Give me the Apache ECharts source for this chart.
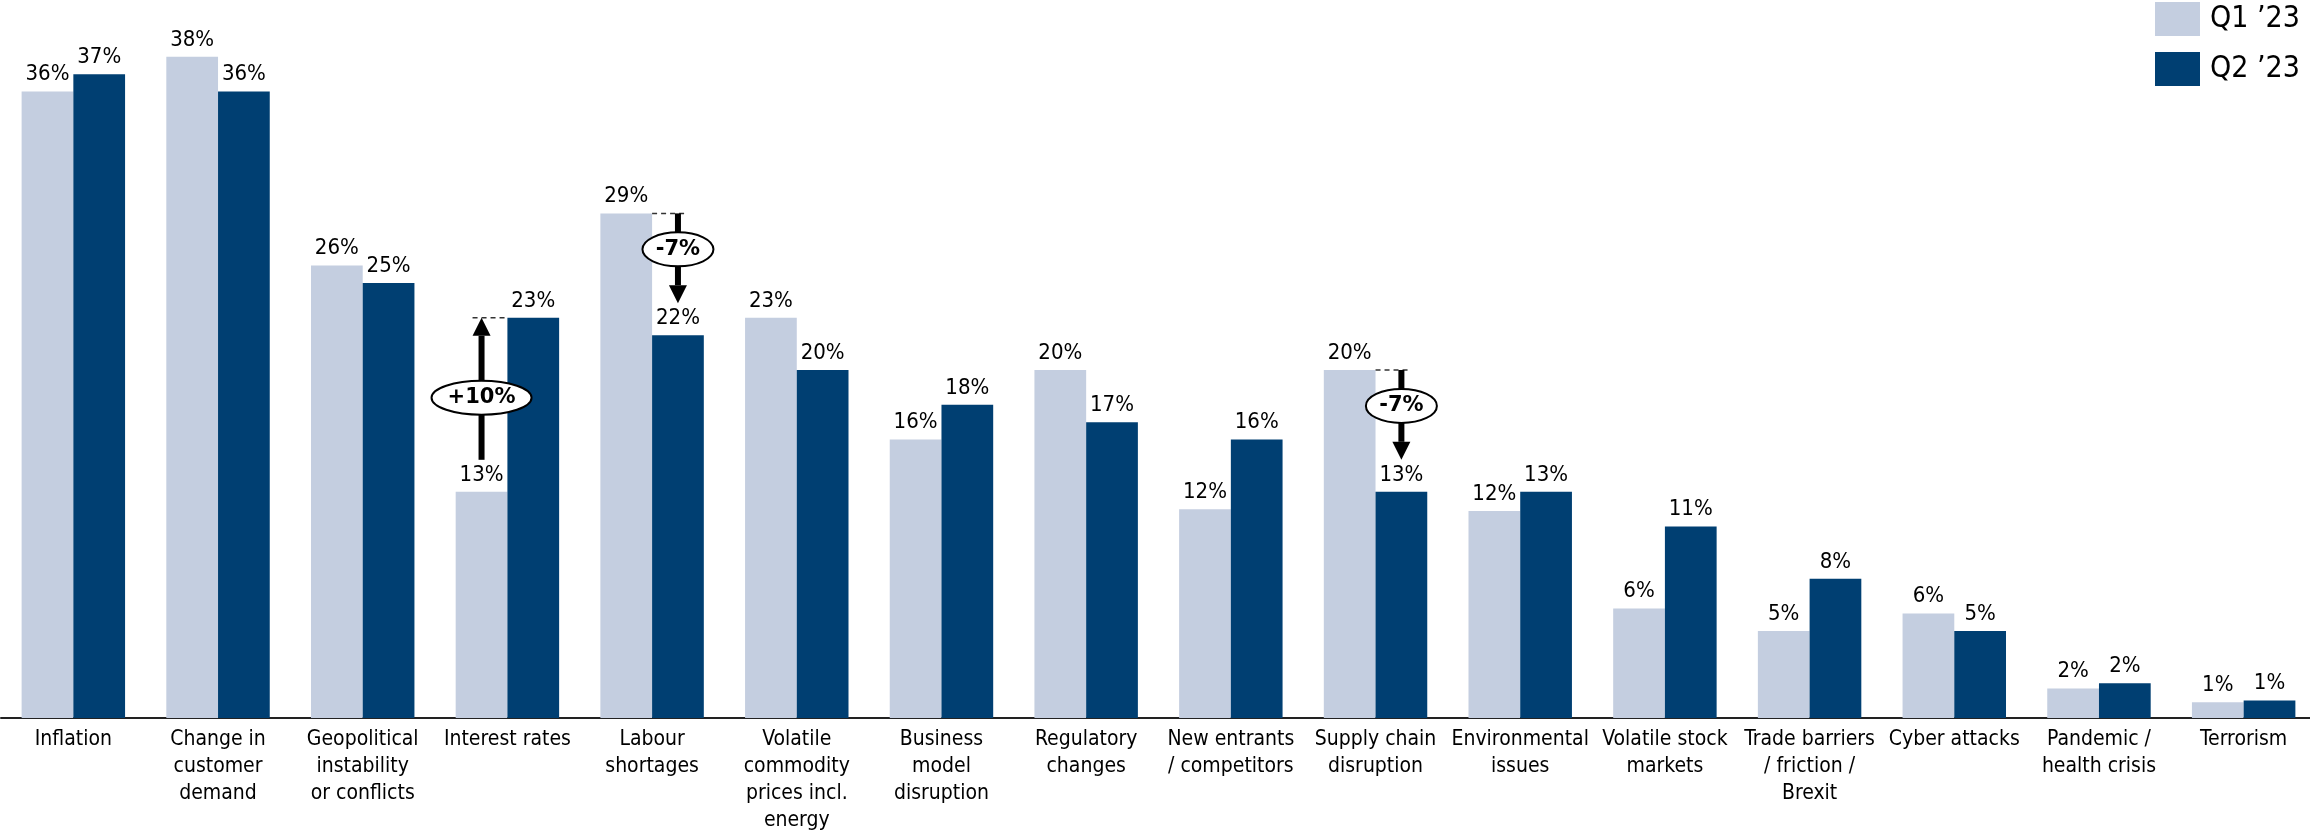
<!DOCTYPE html>
<html>
<head>
<meta charset="utf-8">
<script src="https://cdn.jsdelivr.net/npm/echarts@6/dist/echarts.min.js"></script>
<style>
html,body{margin:0;padding:0;background:#fff;}
#chart{width:2310px;height:832px;}
</style>
</head>
<body>
<div id="chart"></div>
<script>
// ---- data ----
var categories = [
  'Inflation',
  'Change in\ncustomer\ndemand',
  'Geopolitical\ninstability\nor conflicts',
  'Interest rates',
  'Labour\nshortages',
  'Volatile\ncommodity\nprices incl.\nenergy',
  'Business\nmodel\ndisruption',
  'Regulatory\nchanges',
  'New entrants\n/ competitors',
  'Supply chain\ndisruption',
  'Environmental\nissues',
  'Volatile stock\nmarkets',
  'Trade barriers\n/ friction /\nBrexit',
  'Cyber attacks',
  'Pandemic /\nhealth crisis',
  'Terrorism'
];
var seriesNames = ['Q1 \u201923', 'Q2 \u201923'];
var q1Values = [36, 38, 26, 13, 29, 23, 16, 20, 12, 20, 11.9, 6.3, 5, 6, 1.7, 0.9];
var q2Values = [37, 36, 25, 23, 22, 20, 18, 17, 16, 13, 13, 11, 8, 5, 2, 1];
var annotatedCategories = ['Interest rates', 'Labour\nshortages', 'Supply chain\ndisruption'];

// ---- build ----
var FONT = '"DejaVu Sans Condensed", "DejaVu Sans", sans-serif';
var CAT_GAP = 0.285;
var annotData = annotatedCategories.map(function (c) {
  var i = categories.indexOf(c);
  return [i, q1Values[i], q2Values[i]];
});

function pctLabel(p) { return Math.round(p.value) + '%'; }

var chart = echarts.init(document.getElementById('chart'), null, {renderer: 'canvas'});
chart.setOption({
  animation: false,
  backgroundColor: '#ffffff',
  grid: {left: 1, width: 2315, top: 22, bottom: 114, containLabel: false, outerBoundsMode: 'none'},
  legend: {
    data: seriesNames,
    orient: 'vertical',
    left: 2155,
    top: 2,
    padding: 0,
    itemWidth: 45,
    itemHeight: 34,
    itemGap: 16,
    icon: 'rect',
    textStyle: {fontFamily: FONT, fontSize: 30, color: '#000', padding: [0, 0, 0, 5]}
  },
  xAxis: {
    type: 'category',
    data: categories,
    axisLine: {show: true, lineStyle: {color: '#222', width: 2}},
    axisTick: {show: false},
    axisLabel: {
      interval: 0, margin: 8, fontFamily: FONT, fontSize: 21, lineHeight: 27,
      color: '#000', align: 'center', hideOverlap: false
    }
  },
  yAxis: {
    type: 'value', min: 0, max: 40, interval: 10,
    show: false, splitLine: {show: false}
  },
  series: [
    {
      name: seriesNames[0], type: 'bar', data: q1Values,
      barGap: 0, barCategoryGap: (CAT_GAP * 100) + '%',
      itemStyle: {color: '#C4CEE0'},
      label: {show: true, position: 'top', distance: 6, formatter: pctLabel,
        fontFamily: FONT, fontSize: 22, color: '#000'}
    },
    {
      name: seriesNames[1], type: 'bar', data: q2Values,
      barGap: 0, barCategoryGap: (CAT_GAP * 100) + '%',
      itemStyle: {color: '#003F72'},
      label: {show: true, position: 'top', distance: 6, formatter: pctLabel,
        fontFamily: FONT, fontSize: 22, color: '#000'}
    },
    {
      type: 'custom',
      silent: true,
      z: 10,
      data: annotData,
      encode: {x: 0, y: [1, 2]},
      renderItem: function (params, api) {
        var idx = api.value(0), a = api.value(1), b = api.value(2);
        var band = api.size([1, 0])[0];
        var bw = band * (1 - CAT_GAP) / 2;
        var cx = api.coord([idx, 0])[0];
        var ya = api.coord([idx, a])[1];
        var yb = api.coord([idx, b])[1];
        var up = b > a;
        var GAP = 32, HEAD = 18, HEADW = 18, SHAFT = 6;
        var ax, yStart, yEnd, dash, dir;
        if (up) {
          ax = cx - bw / 2; yStart = ya - GAP; yEnd = yb; dir = -1;
          dash = {x1: ax - 9, x2: cx, y: yb};
        } else {
          ax = cx + bw / 2; yStart = ya; yEnd = yb - GAP; dir = 1;
          dash = {x1: cx, x2: ax + 9, y: ya};
        }
        var headBase = yEnd - dir * HEAD;
        var midY = (yStart + headBase) / 2;
        var diff = Math.round(b - a);
        var txt = (diff > 0 ? '+' : '') + diff + '%';
        var ew = 29 * txt.length - 16;
        var rx = ew / 2, ry = 17;
        var ell = 'M' + (ax - rx) + ' ' + midY +
          ' A' + rx + ' ' + ry + ' 0 1 0 ' + (ax + rx) + ' ' + midY +
          ' A' + rx + ' ' + ry + ' 0 1 0 ' + (ax - rx) + ' ' + midY + ' Z';
        return {
          type: 'group',
          children: [
            {type: 'line', shape: {x1: dash.x1, y1: dash.y, x2: dash.x2, y2: dash.y},
              style: {stroke: '#333', lineWidth: 1.5, lineDash: [5, 4]}},
            {type: 'line', shape: {x1: ax, y1: yStart, x2: ax, y2: headBase},
              style: {stroke: '#000', lineWidth: SHAFT}},
            {type: 'polygon', shape: {points: [[ax - HEADW / 2, headBase], [ax + HEADW / 2, headBase], [ax, yEnd]]},
              style: {fill: '#000'}},
            {type: 'path', shape: {pathData: ell},
              style: {fill: '#fff', stroke: '#000', lineWidth: 2}},
            {type: 'text', x: ax, y: midY,
              style: {text: txt, fill: '#000', font: 'bold 21px "DejaVu Sans", sans-serif',
                align: 'center', verticalAlign: 'middle', textAlign: 'center', textVerticalAlign: 'middle'}}
          ]
        };
      }
    }
  ]
});
</script>
</body>
</html>
